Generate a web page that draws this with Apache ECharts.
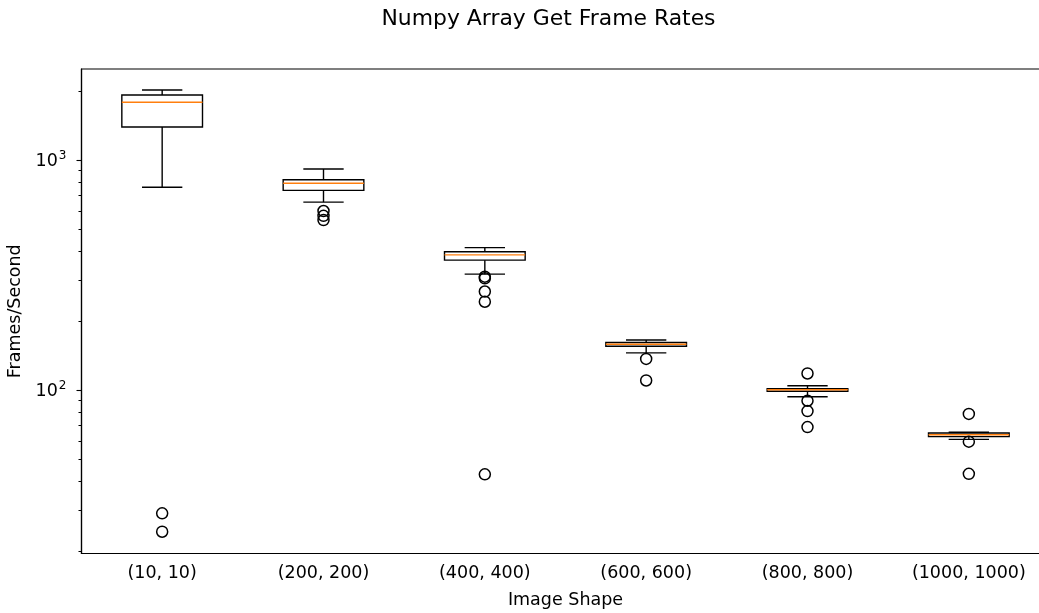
<!DOCTYPE html>
<html><head><meta charset="utf-8">
<script src="https://cdn.jsdelivr.net/npm/echarts@6/dist/echarts.min.js"></script>
<style>html,body{margin:0;padding:0;background:#fff}#c{width:1039px;height:613px}</style>
</head><body><div id="c"></div>
<script>
const categories = ['(10, 10)', '(200, 200)', '(400, 400)', '(600, 600)', '(800, 800)', '(1000, 1000)'];
const whiskerLow  = [761, 656, 319, 145, 93.5, 61.0];
const q1          = [1392, 738, 367, 155, 98.7, 62.7];
const median      = [1782, 792, 387, 158, 100.3, 63.9];
const q3          = [1917, 821, 399, 161, 101.3, 65.0];
const whiskerHigh = [2014, 914, 416, 165, 104.4, 65.5];
const outliers10   = [29.1, 24.2];
const outliers200  = [600, 572, 548];
const outliers400  = [311, 306, 268, 242, 43];
const outliers600  = [136.5, 110];
const outliers800  = [118, 89.8, 81, 69];
const outliers1000 = [78.7, 59.6, 43.2];
const majorTicks = [100, 1000];
const minorTicks = [20, 30, 40, 50, 60, 70, 80, 90, 200, 300, 400, 500, 600, 700, 800, 900, 2000];
const yMin = 19.46, yMax = 2487;

const allOutliers = [outliers10, outliers200, outliers400, outliers600, outliers800, outliers1000];
const boxData = categories.map((c, i) => [i, whiskerLow[i], q1[i], median[i], q3[i], whiskerHigh[i]]);
const flierData = [];
allOutliers.forEach((arr, i) => arr.forEach(v => flierData.push([i, v])));

const FONT = 'DejaVu Sans';
const chart = echarts.init(document.getElementById('c'), null, {renderer: 'canvas'});
chart.setOption({
  animation: false,
  backgroundColor: '#fff',
  title: {
    text: 'Numpy Array Get Frame Rates',
    left: 543.5, top: 3, textAlign: 'center',
    textStyle: {fontFamily: FONT, fontSize: 21.9, fontWeight: 'normal', color: '#000'}
  },
  grid: {left: 81.5, top: 69, width: 968, height: 484.5, show: true, borderColor: '#000', borderWidth: 1.2, backgroundColor: 'transparent', containLabel: false, outerBoundsMode: 'none'},
  xAxis: {
    type: 'category', data: categories, boundaryGap: true,
    name: 'Image Shape', nameLocation: 'middle', nameGap: 38,
    nameTextStyle: {fontFamily: FONT, fontSize: 17.5, color: '#000'},
    axisLine: {lineStyle: {color: '#000', width: 1.2}},
    axisTick: {alignWithLabel: true, length: 5, lineStyle: {color: '#000', width: 1.1}},
    axisLabel: {fontFamily: FONT, fontSize: 17.5, color: '#000', margin: 11, interval: 0},
    splitLine: {show: false}
  },
  yAxis: [{
    type: 'log', logBase: 10, min: yMin, max: yMax,
    name: 'Frames/Second', nameLocation: 'middle', nameGap: 53,
    nameTextStyle: {fontFamily: FONT, fontSize: 17.5, color: '#000'},
    axisLine: {show: true, lineStyle: {color: '#000', width: 1.2}},
    axisTick: {show: true, length: 5, customValues: majorTicks, lineStyle: {color: '#000', width: 1.1}},
    axisLabel: {
      customValues: majorTicks, margin: 15,
      formatter: v => '{b|10}{s|' + Math.round(Math.log10(v)) + '}',
      rich: {
        b: {fontFamily: FONT, fontSize: 17.5, color: '#000', verticalAlign: 'bottom', lineHeight: 20},
        s: {fontFamily: FONT, fontSize: 12, color: '#000', verticalAlign: 'top', lineHeight: 12, padding: [0,0,0,1]}
      }
    },
    splitLine: {show: false}
  }, {
    type: 'log', logBase: 10, min: yMin, max: yMax, position: 'left',
    axisLine: {show: false},
    axisTick: {show: true, length: 3, customValues: minorTicks, lineStyle: {color: '#000', width: 1}},
    axisLabel: {show: false},
    splitLine: {show: false}
  }],
  series: [{
    type: 'custom',
    data: boxData,
    encode: {x: 0, y: [1, 2, 3, 4, 5]},
    renderItem: function (params, api) {
      const x = api.value(0);
      const bw = api.size([1, 0])[0] * 0.5;
      const cw = bw * 0.5;
      const pLow = api.coord([x, api.value(1)]);
      const pQ1 = api.coord([x, api.value(2)]);
      const pMed = api.coord([x, api.value(3)]);
      const pQ3 = api.coord([x, api.value(4)]);
      const pHigh = api.coord([x, api.value(5)]);
      const cx = pQ1[0];
      const blk = {stroke: '#000', lineWidth: 1.4, fill: null};
      return {
        type: 'group',
        children: [
          {type: 'line', shape: {x1: cx, y1: pQ1[1], x2: cx, y2: pLow[1]}, style: blk},
          {type: 'line', shape: {x1: cx, y1: pQ3[1], x2: cx, y2: pHigh[1]}, style: blk},
          {type: 'line', shape: {x1: cx - cw / 2, y1: pLow[1], x2: cx + cw / 2, y2: pLow[1]}, style: blk},
          {type: 'line', shape: {x1: cx - cw / 2, y1: pHigh[1], x2: cx + cw / 2, y2: pHigh[1]}, style: blk},
          {type: 'rect', shape: {x: cx - bw / 2, y: pQ3[1], width: bw, height: pQ1[1] - pQ3[1]}, style: {stroke: '#000', lineWidth: 1.4, fill: 'none'}},
          {type: 'line', shape: {x1: cx - bw / 2, y1: pMed[1], x2: cx + bw / 2, y2: pMed[1]}, style: {stroke: '#ff7f0e', lineWidth: 1.4}}
        ]
      };
    }
  }, {
    type: 'scatter',
    data: flierData,
    symbol: 'circle', symbolSize: 11,
    itemStyle: {color: 'rgba(0,0,0,0)', borderColor: '#000', borderWidth: 1.5, opacity: 1},
    emphasis: {disabled: true}
  }]
});
</script></body></html>
